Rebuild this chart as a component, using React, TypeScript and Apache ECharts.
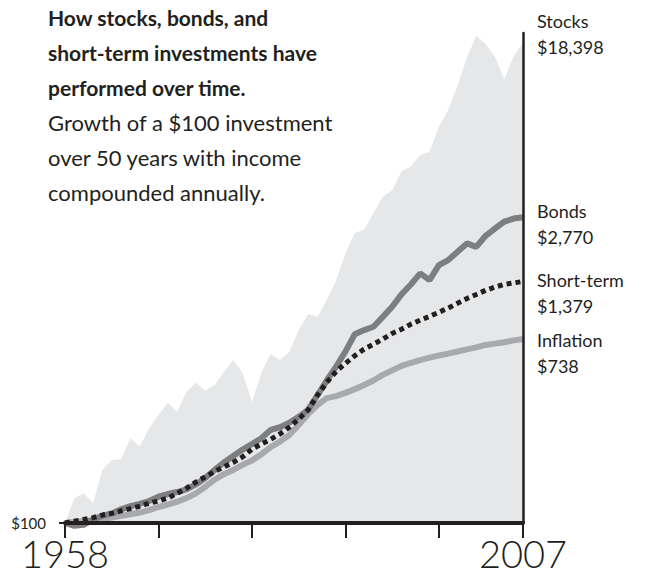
import React, { useEffect, useRef } from "react";
import * as echarts from "echarts";

const years = [
  "1958","1959","1960","1961","1962","1963","1964","1965","1966","1967",
  "1968","1969","1970","1971","1972","1973","1974","1975","1976","1977",
  "1978","1979","1980","1981","1982","1983","1984","1985","1986","1987",
  "1988","1989","1990","1991","1992","1993","1994","1995","1996","1997",
  "1998","1999","2000","2001","2002","2003","2004","2005","2006","2007",
];

const stocks = [
  100, 131, 138, 124, 178, 198, 200, 251, 229, 280,
  323, 369, 335, 416, 459, 421, 448, 516, 588, 510,
  372, 510, 627, 588, 641, 813, 967, 940, 1127, 1393,
  1867, 2336, 2420, 2890, 3475, 3706, 4555, 4810, 5450, 5645,
  7400, 8870, 11600, 15650, 19900, 18170, 15850, 12400, 15960, 18398,
];

const bonds = [
  100, 97, 98, 104, 108, 111, 116, 120, 123, 127,
  133, 137, 140, 144, 152, 163, 178, 193, 207, 222,
  236, 251, 275, 283, 297, 317, 342, 400, 470, 547,
  643, 777, 813, 843, 939, 1047, 1199, 1335, 1506, 1400,
  1646, 1740, 1904, 2085, 2008, 2265, 2451, 2640, 2730, 2770,
];

const shortTerm = [
  100, 102, 104, 106, 109, 111, 114, 117, 120, 124,
  127, 131, 138, 146, 156, 165, 175, 184, 193, 205,
  223, 236, 248, 263, 283, 309, 341, 401, 460, 518,
  566, 615, 661, 697, 737, 784, 821, 866, 905, 944,
  987, 1033, 1088, 1145, 1197, 1252, 1297, 1337, 1357, 1379,
];

const inflation = [
  100, 101, 102, 103, 104, 106, 108, 110, 112, 115,
  119, 122, 126, 131, 138, 148, 160, 170, 178, 188,
  197, 211, 228, 242, 260, 290, 326, 360, 388, 397,
  411, 428, 448, 470, 500, 525, 551, 570, 587, 603,
  617, 630, 644, 659, 674, 692, 702, 713, 727, 738,
];

const seriesNames = ["Stocks", "Bonds", "Short-term", "Inflation"];
const xTickYears = ["1958", "1968", "1978", "1988", "1998", "2007"];
const xLabelYears = ["1958", "2007"];
const yTickValues = [100];
const yMin = 100;
const yMax = 20500;

const FONT = "Lato, 'Noto Sans', sans-serif";
const INK = "#231f20";

function endLabel(name: string, dy: number) {
  return {
    show: true,
    formatter: (p: any) => {
      const v = Array.isArray(p.value) ? p.value[1] : p.value;
      return name + "\n$" + Number(v).toLocaleString("en-US");
    },
    color: INK,
    fontFamily: FONT,
    fontSize: 18,
    lineHeight: 26,
    align: "left",
    distance: 14,
    offset: [0, dy],
  };
}

export default function App() {
  const ref = useRef<HTMLDivElement>(null);

  useEffect(() => {
    if (!ref.current) return;
    const chart = echarts.init(ref.current, undefined, { renderer: "svg" });
    const option: any = {
      animation: false,
      backgroundColor: "#ffffff",
      title: {
        text: "How stocks, bonds, and\nshort-term investments have\nperformed over time.",
        subtext: "Growth of a $100 investment\nover 50 years with income\ncompounded annually.",
        left: 48,
        top: 0,
        padding: 0,
        itemGap: 0,
        textStyle: {
          fontFamily: FONT,
          fontSize: 21,
          fontWeight: "bold",
          lineHeight: 35,
          color: INK,
        },
        subtextStyle: {
          fontFamily: FONT,
          fontSize: 22,
          lineHeight: 35,
          color: INK,
        },
        z: 10,
      },
      grid: { left: 65, right: 126, top: 33, bottom: 54 },
      xAxis: {
        type: "category",
        data: years,
        boundaryGap: false,
        axisLine: { show: true, lineStyle: { color: INK, width: 4 } },
        axisTick: {
          show: true,
          interval: (i: number, v: string) => xTickYears.includes(v),
          length: 15,
          lineStyle: { color: INK, width: 2 },
        },
        axisLabel: {
          show: true,
          interval: (i: number, v: string) => xLabelYears.includes(v),
          fontFamily: FONT,
          fontSize: 38,
          fontWeight: 300,
          color: INK,
          margin: 11,
        },
        splitLine: { show: false },
        z: 5,
      },
      yAxis: [
        {
          type: "log",
          min: yMin,
          max: yMax,
          position: "right",
          axisLine: { show: true, lineStyle: { color: INK, width: 2.5 } },
          axisTick: { show: false },
          axisLabel: { show: false },
          splitLine: { show: false },
          z: 5,
        },
        {
          type: "log",
          min: yMin,
          max: yMax,
          position: "left",
          axisLine: { show: false },
          axisTick: {
            show: true,
            customValues: yTickValues,
            length: 6,
            lineStyle: { color: INK, width: 2 },
          },
          axisLabel: {
            show: true,
            customValues: yTickValues,
            formatter: (v: number) => "$" + v,
            fontFamily: FONT,
            fontSize: 15,
            color: INK,
            margin: 19,
          },
          splitLine: { show: false },
        },
      ],
      series: [
        {
          name: seriesNames[0],
          type: "line",
          data: stocks,
          showSymbol: false,
          symbol: "none",
          lineStyle: { width: 0, color: "#e6e7e8" },
          itemStyle: { color: "#e6e7e8" },
          areaStyle: { color: "#e6e7e8", opacity: 1, origin: "start" },
          endLabel: endLabel(seriesNames[0], -9),
          z: 1,
        },
        {
          name: seriesNames[3],
          type: "line",
          data: inflation,
          symbol: "none",
          lineStyle: { width: 6, color: "#a7a9ac" },
          endLabel: endLabel(seriesNames[3], 14),
          z: 2,
        },
        {
          name: seriesNames[1],
          type: "line",
          data: bonds,
          symbol: "none",
          clip: false,
          lineStyle: { width: 6, color: "#7d7e80" },
          endLabel: endLabel(seriesNames[1], 7),
          z: 3,
        },
        {
          name: seriesNames[2],
          type: "line",
          data: shortTerm,
          symbol: "none",
          lineStyle: { width: 5, color: INK, type: [5, 4], cap: "butt" },
          endLabel: endLabel(seriesNames[2], 12),
          z: 4,
        },
      ],
    };
    chart.setOption(option);
    return () => chart.dispose();
  }, []);

  return (
    <div
      ref={ref}
      style={{ position: "fixed", left: 0, top: 0, width: 649, height: 577 }}
    />
  );
}
